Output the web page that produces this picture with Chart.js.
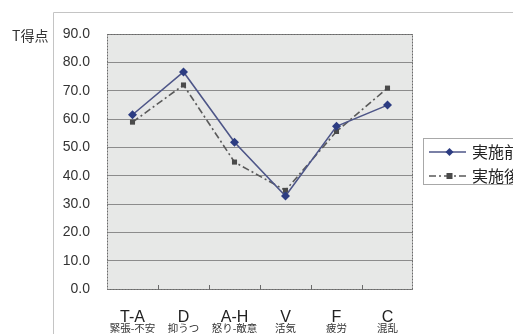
<!DOCTYPE html>
<html>
<head>
<meta charset="utf-8">
<script src="https://cdn.jsdelivr.net/npm/chart.js@4.4.1/dist/chart.umd.min.js"></script>
<style>
  html, body { margin: 0; padding: 0; background: #fff; overflow: hidden; }
  #wrap { position: relative; width: 513px; height: 334px; }
</style>
</head>
<body>
<div id="wrap"><canvas id="myChart" width="513" height="334"></canvas></div>
<script>
// categories (scale code + Japanese name)
const codes = ["T-A", "D", "A-H", "V", "F", "C"];
const names = ["緊張-不安", "抑うつ", "怒り-敵意", "活気", "疲労", "混乱"];

// series values (T score)
const before = [61.5, 76.6, 51.8, 32.8, 57.4, 64.9];
const after = [58.9, 72.0, 44.8, 34.8, 55.6, 70.9];
const seriesNames = ["実施前", "実施後"];

// y axis
const yMin = 0;
const yMax = 90;
const yStep = 10;
const yTitle = "T得点";

const cjk = "'Noto Sans CJK JP', 'Noto Sans', sans-serif";
const latin = "'Liberation Sans', Arial, sans-serif";

// Draws the frame, plot background, subtitles, title and the legend box
const decorations = {
  id: "decorations",
  beforeDraw(chart) {
    const ctx = chart.ctx;
    const a = chart.chartArea;
    ctx.save();
    // outer frame (cut off at right/bottom)
    ctx.strokeStyle = "#c4c4c4";
    ctx.lineWidth = 1;
    ctx.beginPath();
    ctx.moveTo(53.5, 340);
    ctx.lineTo(53.5, 12.5);
    ctx.lineTo(520, 12.5);
    ctx.stroke();
    // plot background
    ctx.fillStyle = "#e7e8e7";
    ctx.fillRect(a.left, a.top, a.right - a.left, a.bottom - a.top);
    ctx.restore();
  },
  afterDraw(chart) {
    const ctx = chart.ctx;
    const a = chart.chartArea;
    const xs = chart.scales.x;
    ctx.save();
    // plot border
    ctx.strokeStyle = "#6a6a6a";
    ctx.setLineDash([2, 1]);
    ctx.lineWidth = 1;
    ctx.strokeRect(a.left + 0.5, a.top + 0.5, a.right - a.left - 1, a.bottom - a.top);
    ctx.setLineDash([]);
    // small category ticks on the bottom edge
    const n = codes.length;
    for (let i = 1; i < n; i++) {
      const x = Math.round(a.left + i * (a.right - a.left) / n) + 0.5;
      ctx.beginPath();
      ctx.moveTo(x, a.bottom - 4);
      ctx.lineTo(x, a.bottom);
      ctx.stroke();
    }
    // Japanese names under the codes
    ctx.fillStyle = "#333";
    ctx.font = "10.5px " + cjk;
    ctx.textAlign = "center";
    ctx.textBaseline = "middle";
    names.forEach((nm, i) => {
      ctx.fillText(nm, xs.getPixelForValue(i), 328);
    });
    // y axis title
    ctx.font = "14px " + cjk;
    ctx.textAlign = "left";
    ctx.fillText(yTitle, 12, 36);
    // legend
    const ds = chart.data.datasets;
    ctx.strokeStyle = "#a8a8a8";
    ctx.lineWidth = 1;
    ctx.strokeRect(423.5, 138.5, 120, 46);
    const rows = [152, 176];
    rows.forEach((y, i) => {
      const d = ds[i];
      ctx.strokeStyle = d.borderColor;
      ctx.lineWidth = 1.5;
      ctx.setLineDash(d.borderDash || []);
      ctx.beginPath();
      ctx.moveTo(429, y);
      ctx.lineTo(466, y);
      ctx.stroke();
      ctx.setLineDash([]);
      ctx.fillStyle = d.pointBackgroundColor;
      if (d.pointStyle === "rectRot") {
        ctx.beginPath();
        ctx.moveTo(449.5, y - 4);
        ctx.lineTo(453.5, y);
        ctx.lineTo(449.5, y + 4);
        ctx.lineTo(445.5, y);
        ctx.closePath();
        ctx.fill();
      } else {
        ctx.fillRect(446.5, y - 3, 6, 6);
      }
      ctx.fillStyle = "#222";
      ctx.font = "16px " + cjk;
      ctx.textAlign = "left";
      ctx.fillText(seriesNames[i], 472, y);
    });
    ctx.restore();
  }
};

const ctx = document.getElementById("myChart").getContext("2d");
const myChart = new Chart(ctx, {
  type: "line",
  data: {
    labels: codes,
    datasets: [
      {
        label: seriesNames[0],
        data: before,
        borderColor: "#4e5688",
        borderWidth: 1.6,
        pointStyle: "rectRot",
        pointRadius: 4.5,
        pointBackgroundColor: "#2c3c82",
        pointBorderColor: "#2c3c82",
        pointBorderWidth: 0,
        tension: 0
      },
      {
        label: seriesNames[1],
        data: after,
        borderColor: "#5a5a5a",
        borderWidth: 1.6,
        borderDash: [7, 3, 2, 3],
        pointStyle: "rect",
        pointRadius: 3.6,
        pointBackgroundColor: "#4a4a4a",
        pointBorderColor: "#4a4a4a",
        pointBorderWidth: 0,
        tension: 0
      }
    ]
  },
  options: {
    responsive: false,
    animation: false,
    layout: { padding: { left: 0, top: 34, right: 100, bottom: 0 } },
    plugins: {
      legend: { display: false },
      tooltip: { enabled: false }
    },
    scales: {
      x: {
        offset: true,
        grid: { display: false, drawTicks: false },
        border: { display: false },
        ticks: {
          padding: 19,
          color: "#222",
          font: { family: latin, size: 16 },
          maxRotation: 0
        },
        afterFit: (s) => { s.height = 45; }
      },
      y: {
        min: yMin,
        max: yMax,
        grid: { color: "#8c8c8c", lineWidth: 1, drawTicks: false },
        border: { display: false },
        ticks: {
          stepSize: yStep,
          padding: 17,
          color: "#333",
          font: { family: latin, size: 14 },
          callback: (v) => Number(v).toFixed(1)
        },
        afterFit: (s) => { s.width = 107; }
      }
    }
  },
  plugins: [decorations]
});
</script>
</body>
</html>
